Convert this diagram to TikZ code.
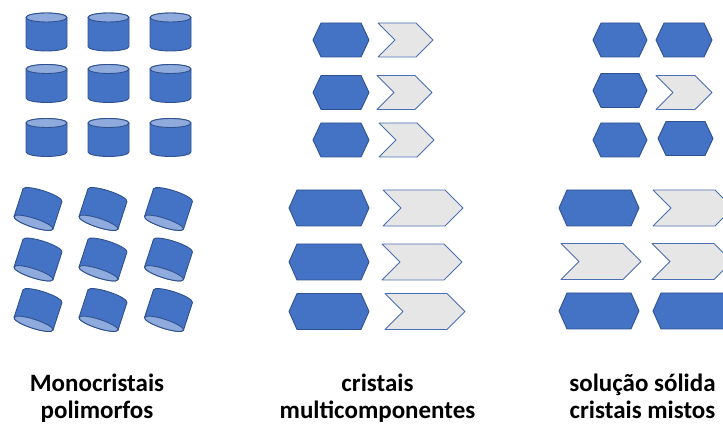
\documentclass[tikz,border=0pt]{standalone}
\usepackage{fontspec}
\setmainfont{Carlito}
\definecolor{cblue}{HTML}{4472C4}
\definecolor{cedge}{HTML}{2F528F}
\definecolor{clight}{HTML}{8FAADC}
\definecolor{cgray}{HTML}{E7E6E6}
\definecolor{cchev}{HTML}{4A6FB0}

% hexagon: centre x, centre y (downwards), width, height
\newcommand{\hexa}[4]{%
  \filldraw[hexface] ({#1-#3/2},-#2) -- ({#1-#3/2+8},{-#2+#4/2}) -- ({#1+#3/2-8},{-#2+#4/2})
    -- ({#1+#3/2},-#2) -- ({#1+#3/2-8},{-#2-#4/2}) -- ({#1-#3/2+8},{-#2-#4/2}) -- cycle;}
% chevron: left x, centre y (downwards), width, height
\newcommand{\chev}[4]{%
  \filldraw[chevface] (#1,{-#2+#4/2}) -- ({#1+#3-#4/2},{-#2+#4/2}) -- ({#1+#3},-#2)
    -- ({#1+#3-#4/2},{-#2-#4/2}) -- (#1,{-#2-#4/2}) -- ({#1+#4/2},-#2) -- cycle;}
% cylinder in local coordinates
\newcommand{\cyl}{%
  \filldraw[hexface] (-20.5,14.5) -- (-20.5,-14.5)
    arc[start angle=180, end angle=360, x radius=20.5pt, y radius=4.5pt]
    -- (20.5,14.5) arc[start angle=0, end angle=180, x radius=20.5pt, y radius=4.5pt] -- cycle;
  \filldraw[hexface, fill=clight] (0,14.5) ellipse[x radius=20.5pt, y radius=4.5pt];}

\begin{document}
\begin{tikzpicture}[x=1pt, y=1pt,
    hexface/.style={fill=cblue, draw=cedge, line width=0.9pt, line join=round},
    chevface/.style={fill=cgray, draw=cchev, line width=0.9pt, line join=round},
    caption/.style={font=\fontsize{25}{28}\selectfont\bfseries, align=center, anchor=base, inner sep=0pt}]
    \clip (0,0) rectangle (723,-427);
    % Monocristais: upright cylinders
    \foreach \cx in {46.5,108.5,170.5}
        \foreach \cy in {32,83.5,137.5}
            \begin{scope}[shift={(\cx,-\cy)}] \cyl \end{scope};
    % tilted cylinders, seen from below
    \foreach \cx in {38,103,168.5}
        \foreach \cy in {209,259.5,310}
            \begin{scope}[shift={(\cx,-\cy)}, rotate=-18, yscale=-1] \cyl \end{scope};
    % cristais multicomponentes: small pairs
    \foreach \cy/\cx in {40/378, 92.5/377, 140/379} {
        \hexa{341}{\cy}{56}{34}
        \chev{\cx}{\cy}{55}{34}
    }
    % large pairs
    \foreach \cy/\cx in {208/383, 262/382, 311.5/385} {
        \hexa{329}{\cy}{80}{36}
        \chev{\cx}{\cy}{80}{36}
    }
    % solucao solida: small ones
    \hexa{620}{40}{54}{34}
    \hexa{684}{40}{56}{34}
    \hexa{620}{90.5}{54}{34}
    \chev{656}{92.5}{56}{34}
    \hexa{620}{140}{54}{34}
    \hexa{685.5}{138.5}{55}{34}
    % large ones, running off the right edge
    \hexa{599}{208}{80}{36}
    \chev{653}{208}{80}{36}
    \chev{561}{261.5}{80}{36}
    \chev{652}{261.5}{80}{36}
    \hexa{599}{311}{80}{36}
    \hexa{693}{311}{80}{36}
    % captions (base = last line)
    \node[caption] (mono) at (97,-419) {Monocristais\\polimorfos};
    \node[caption] (multi) at (377.5,-419) {cristais\\multicomponentes};
    \node[caption] (misto) at (642.5,-419) {solução sólida\\cristais mistos};
\end{tikzpicture}
\end{document}
